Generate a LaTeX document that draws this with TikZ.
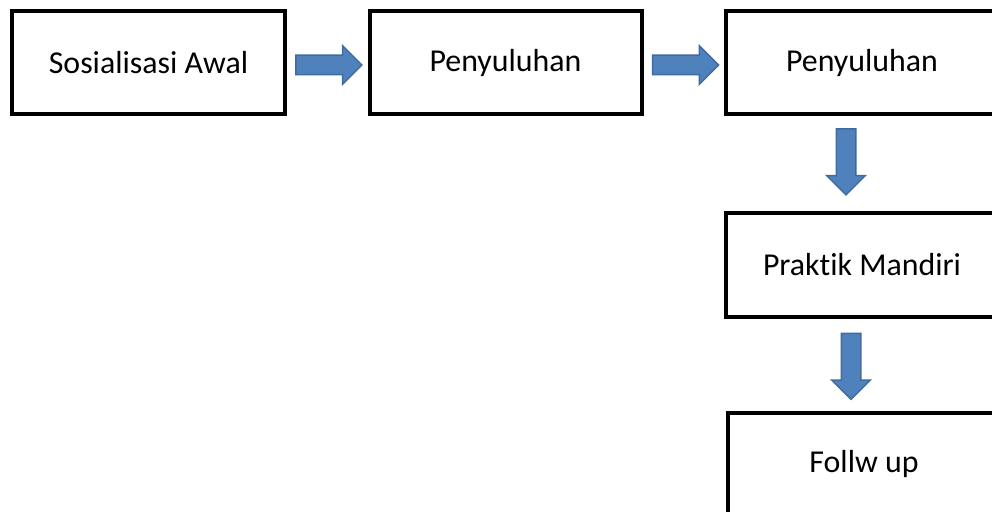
\documentclass[tikz,border=0pt]{standalone}
\usepackage{fontspec}
\setmainfont[Ligatures={NoCommon}]{Carlito}
\usepackage{xcolor}
\definecolor{arrowfill}{HTML}{4F81BD}
\definecolor{arrowline}{HTML}{3F6B9E}
\usetikzlibrary{shapes.arrows}

\begin{document}
\begin{tikzpicture}[x=1bp,y=-1bp,every node/.style={font=\fontsize{32}{38}\selectfont}]
\tikzset{stagebox/.style={draw=black,line width=4bp,rectangle,inner sep=0pt,minimum width=272bp,minimum height=103bp},
  blockarrow/.style={single arrow,draw=arrowline,fill=arrowfill,line width=1.5bp,inner xsep=0pt,inner ysep=9bp,
    single arrow head extend=9.5bp,minimum height=66bp,sloped,allow upside down,xshift=-3bp}}
\useasboundingbox (0,0) rectangle (992,512);
\clip (0,0) rectangle (992,512);
\node[stagebox] (sos) at (148.5,63) {Sosialisasi Awal};
\node[stagebox] (pen1) at (505.5,63) {Penyuluhan};
\node[stagebox] (pen2) at (862,63) {Penyuluhan};
\node[stagebox] (prak) at (862,265) {Praktik Mandiri};
\node[stagebox] (fol) at (864,464) {Follw up};
\path ([yshift=-2bp]sos.east) -- node[blockarrow]{} ([yshift=-2bp]pen1.west);
\path ([yshift=-2bp]pen1.east) -- node[blockarrow]{} ([yshift=-2bp]pen2.west);
\path ([xshift=-16bp]pen2.south) -- node[blockarrow,xshift=-4bp]{} ([xshift=-16bp]prak.north);
\path ([xshift=-11bp]prak.south) -- node[blockarrow]{} ([xshift=-13bp]fol.north);
\end{tikzpicture}
\end{document}
